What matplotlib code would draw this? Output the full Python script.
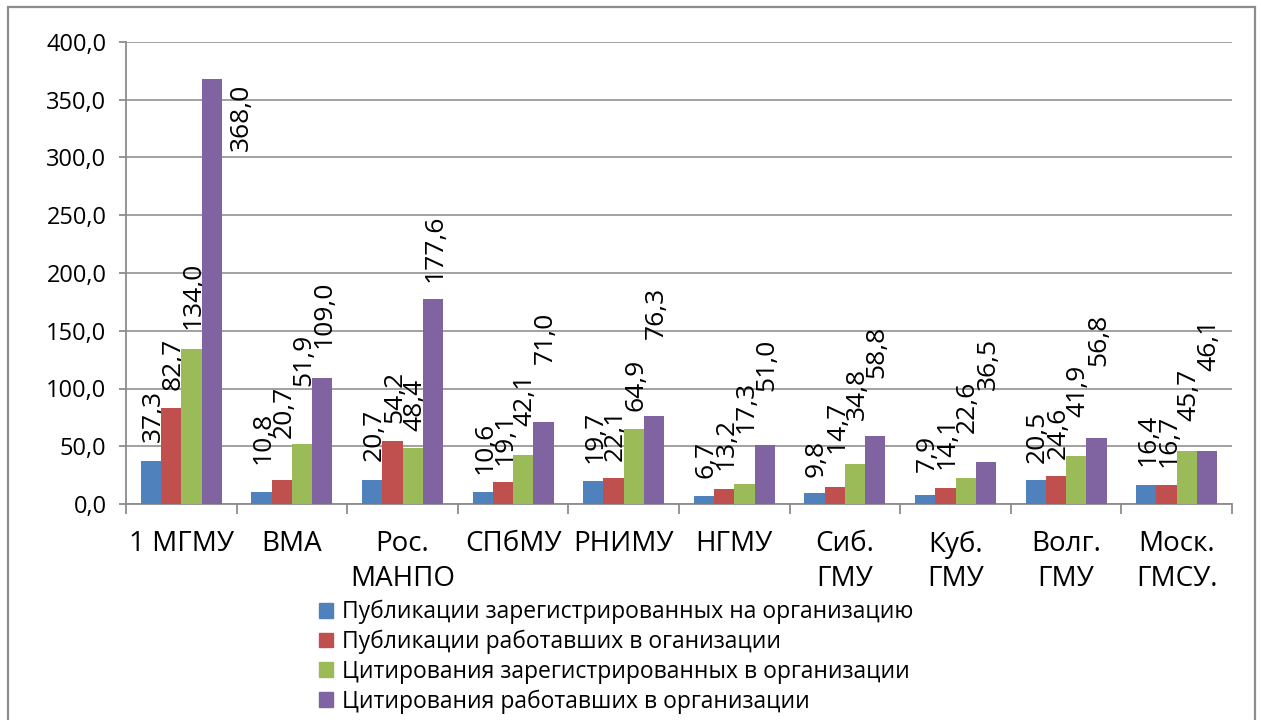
import numpy as np
import matplotlib.pyplot as plt
from matplotlib.patches import Rectangle

# Данные
categories = ["1 МГМУ", "ВМА", "Рос.\nМАНПО", "СПбМУ", "РНИМУ", "НГМУ",
              "Сиб.\nГМУ", "Куб.\nГМУ", "Волг.\nГМУ", "Моск.\nГМСУ."]
series_names = ["Публикации зарегистрированных на организацию",
                "Публикации работавших в оганизации",
                "Цитирования зарегистрированных в организации",
                "Цитирования работавших в организации"]
pub_reg = [37.3, 10.8, 20.7, 10.6, 19.7, 6.7, 9.8, 7.9, 20.5, 16.4]
pub_work = [82.7, 20.7, 54.2, 19.1, 22.1, 13.2, 14.7, 14.1, 24.6, 16.7]
cit_reg = [134.0, 51.9, 48.4, 42.1, 64.9, 17.3, 34.8, 22.6, 41.9, 45.7]
cit_work = [368.0, 109.0, 177.6, 71.0, 76.3, 51.0, 58.8, 36.5, 56.8, 46.1]
yticks = [0, 50, 100, 150, 200, 250, 300, 350, 400]

colors = ["#4F81BD", "#C0504D", "#9BBB59", "#8064A2"]

# подъём подписей над столбцами (px), как их раздвинул Excel
label_lift = [
    [19, 28, 19, 18, 18, 18, 16, 23, 17, 19],
    [18, 42, 18, 17, 17, 19, 34, 19, 17, 18],
    [20, 58, 17, 29, 18, 51, 44, 45, 39, 30],
    [0, 30, 17, 58, 77, 54, 58, 72, 72, 80],
]

plt.rcParams["font.family"] = ["Open Sans", "DejaVu Sans"]

W, H, DPI = 1261, 720, 100
fig = plt.figure(figsize=(W / DPI, H / DPI), dpi=DPI)
ax = fig.add_axes([126 / W, 1 - 504 / H, (1232 - 126) / W, (504 - 42) / H])

# рамка диаграммы
fig.patches.append(Rectangle((8 / W, -0.05), (1255 - 8) / W, 1.05 - 7 / H,
                             transform=fig.transFigure, fill=False,
                             edgecolor="#8c8c8c", linewidth=1.6))

x = np.arange(len(categories))
bw = 0.183
px = 0.72  # пиксель в пунктах
all_series = [pub_reg, pub_work, cit_reg, cit_work]
for i, (vals, col) in enumerate(zip(all_series, colors)):
    xs = x + (i - 1.5) * bw
    ax.bar(xs, vals, width=bw, color=col, zorder=3)
    for j, (xx, v) in enumerate(zip(xs, vals)):
        txt = f"{v:.1f}".replace(".", ",")
        if i == 3 and j == 0:
            ax.annotate(txt, (xx, v), xytext=(30 * px, -5 * px),
                        textcoords="offset points", rotation=90,
                        ha="center", va="top", fontsize=19)
        else:
            ax.annotate(txt, (xx, v), xytext=(2 * px, label_lift[i][j] * px),
                        textcoords="offset points", rotation=90,
                        ha="center", va="bottom", fontsize=19)

ax.set_ylim(0, 400)
ax.set_xlim(-0.5, len(categories) - 0.5)
ax.set_yticks(yticks)
ax.set_yticklabels([f"{t:.1f}".replace(".", ",") for t in yticks], fontsize=17)
ax.yaxis.grid(True, color="#9a9a9a", linewidth=1.3, zorder=0)

ax.set_xticks(np.arange(len(categories) + 1) - 0.5)
ax.set_xticklabels([])
ax.set_xticks(x, minor=True)
ax.set_xticklabels(categories, minor=True, fontsize=20, linespacing=1.32)
ax.tick_params(axis="x", which="major", length=7, width=1.3, color="#8c8c8c")
ax.tick_params(axis="x", which="minor", length=0, pad=19)
ax.tick_params(axis="y", length=5, width=1.3, color="#8c8c8c", pad=9)

for s in ["top", "right"]:
    ax.spines[s].set_visible(False)
for s in ["left", "bottom"]:
    ax.spines[s].set_color("#8c8c8c")
    ax.spines[s].set_linewidth(1.3)

handles = [Rectangle((0, 0), 1, 1, color=c) for c in colors]
fig.legend(handles, series_names, loc="upper left",
           bbox_to_anchor=(319 / W, 1 - 600 / H), frameon=False,
           fontsize=16.5, handlelength=0.6, handleheight=0.6,
           handletextpad=0.4, labelspacing=0.24, borderpad=0, borderaxespad=0)

fig.savefig("out.png", dpi=DPI)
